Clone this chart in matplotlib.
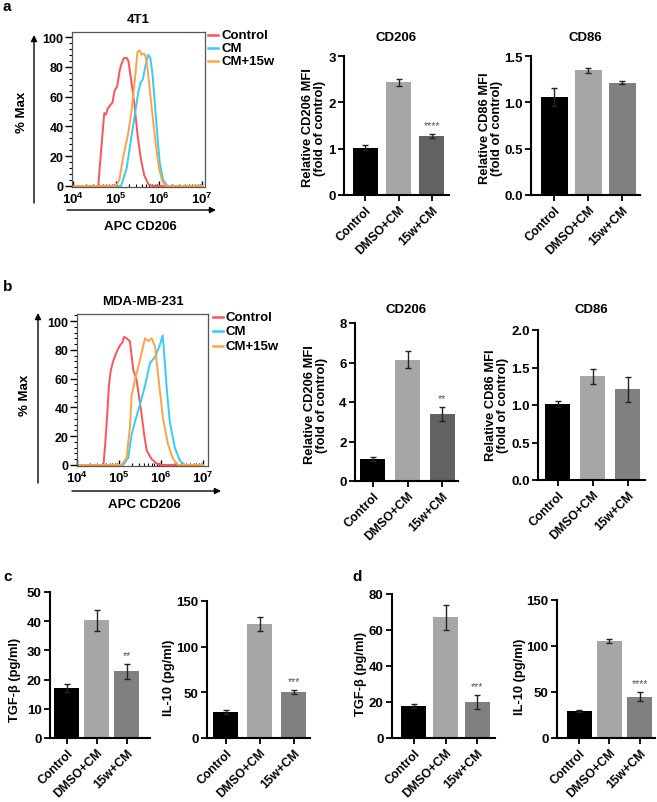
import numpy as np
import matplotlib
matplotlib.use("Agg")
import matplotlib.pyplot as plt
from matplotlib.lines import Line2D
from matplotlib.ticker import MultipleLocator, LogLocator, NullFormatter

plt.rcParams['font.family'] = ['Liberation Sans', 'DejaVu Sans']
plt.rcParams['font.weight'] = 'bold'
plt.rcParams['mathtext.fontset'] = 'custom'
plt.rcParams['mathtext.rm'] = 'Liberation Sans:bold'
plt.rcParams['mathtext.bf'] = 'Liberation Sans:bold'
plt.rcParams['mathtext.it'] = 'Liberation Sans:bold'

# ---------------- data ----------------
hist_labels = ["Control", "CM", "CM+15w"]
hist_xticklabels = [r'$\mathbf{10^{4}}$', r'$\mathbf{10^{5}}$', r'$\mathbf{10^{6}}$', r'$\mathbf{10^{7}}$']

# panel a (4T1) histograms: log10(APC CD206) vs % Max
a_red_log = [4.00, 4.59, 4.66, 4.73, 4.77, 4.81, 4.86, 4.92, 4.97, 5.03, 5.09, 5.13, 5.19, 5.25, 5.29, 5.36, 5.43, 5.50, 5.58, 5.66, 5.76, 5.86, 7.00]
a_red_pct = [0, 0, 25, 49, 48, 52, 54, 56, 64, 67, 78, 82, 86, 86, 84, 70, 55, 35, 18, 7, 1, 0, 0]
a_cyan_log = [4.00, 5.12, 5.25, 5.36, 5.44, 5.52, 5.57, 5.63, 5.68, 5.75, 5.80, 5.85, 5.90, 5.96, 6.02, 6.10, 6.20, 7.00]
a_cyan_pct = [0, 0, 12, 33, 48, 63, 69, 72, 80, 88, 86, 75, 57, 35, 15, 4, 0, 0]
a_orange_log = [4.00, 5.00, 5.08, 5.16, 5.21, 5.29, 5.37, 5.45, 5.50, 5.55, 5.60, 5.64, 5.68, 5.73, 5.79, 5.86, 5.93, 6.00, 6.08, 6.16, 7.00]
a_orange_pct = [0, 0, 4, 18, 25, 36, 52, 74, 90, 91, 88, 89, 88, 80, 64, 45, 27, 12, 3, 0, 0]

# panel b (MDA-MB-231) histograms
b_red_log = [4.00, 4.63, 4.67, 4.72, 4.76, 4.80, 4.86, 4.95, 5.02, 5.08, 5.12, 5.18, 5.26, 5.30, 5.34, 5.42, 5.48, 5.54, 5.60, 5.66, 5.78, 5.90, 6.02, 7.00]
b_red_pct = [0, 0, 14, 35, 55, 65, 72, 79, 83, 85, 89, 88, 86, 76, 66, 59, 47, 35, 21, 10, 4, 1, 0, 0]
b_cyan_log = [4.00, 5.10, 5.22, 5.30, 5.38, 5.50, 5.62, 5.74, 5.86, 5.98, 6.04, 6.08, 6.14, 6.21, 6.33, 6.45, 6.57, 7.00]
b_cyan_pct = [0, 0, 5, 21, 30, 42, 55, 71, 75, 84, 90, 76, 52, 30, 12, 3, 0, 0]
b_orange_log = [4.00, 5.06, 5.18, 5.26, 5.30, 5.38, 5.50, 5.62, 5.70, 5.78, 5.86, 5.96, 6.05, 6.17, 6.29, 6.41, 7.00]
b_orange_pct = [0, 0, 5, 26, 48, 59, 73, 88, 86, 88, 82, 55, 32, 14, 4, 0, 0]

groups = ["Control", "DMSO+CM", "15w+CM"]

a_cd206_mean = [1.02, 2.43, 1.28]
a_cd206_err = [0.05, 0.08, 0.045]
a_cd86_mean = [1.06, 1.345, 1.21]
a_cd86_err = [0.10, 0.03, 0.015]

b_cd206_mean = [1.10, 6.15, 3.39]
b_cd206_err = [0.10, 0.45, 0.37]
b_cd86_mean = [1.01, 1.385, 1.21]
b_cd86_err = [0.04, 0.10, 0.17]

c_tgf_mean = [17.2, 40.3, 22.8]
c_tgf_err = [1.4, 3.6, 2.7]
c_il10_mean = [28.5, 125.0, 50.5]
c_il10_err = [1.8, 7.5, 2.5]

d_tgf_mean = [17.6, 67.1, 20.0]
d_tgf_err = [1.1, 7.0, 3.9]
d_il10_mean = [29.0, 105.5, 45.0]
d_il10_err = [1.2, 2.3, 5.0]

# ---------------- figure ----------------
W, H = 657, 803
fig = plt.figure(figsize=(W / 100, H / 100), dpi=100)


def rect(l, r, t, b):
    return [l / W, 1 - b / H, (r - l) / W, (b - t) / H]


def fp(x, y):
    return (x / W, 1 - y / H)


def ftext(x, y, s, **kw):
    fig.text(x / W, 1 - y / H, s, **kw)


def arrow(x0, y0, x1, y1):
    fig.add_artist(matplotlib.patches.FancyArrowPatch(
        fp(x0, y0), fp(x1, y1), transform=fig.transFigure,
        arrowstyle='-|>', mutation_scale=9, lw=1.0, color='black',
        shrinkA=0, shrinkB=0))


hist_colors = ['#ff5257', '#33cdf5', '#ffa245']


def hist_panel(l, r, t, b, xlim_log, ylim, curves, title, title_y,
               leg_x, leg_ys, yarrow_x, yarrow_y0, yarrow_y1,
               xarrow_y, xarrow_x0, xarrow_x1, ylab_x, ylab_y, xlab_y):
    ax = fig.add_axes(rect(l, r, t, b))
    for (lx, ly), c in zip(curves, hist_colors):
        ax.plot(10 ** np.array(lx), ly, color=c, lw=1.4, solid_joinstyle='round')
    ax.set_xscale('log')
    ax.set_xlim(10 ** xlim_log[0], 10 ** xlim_log[1])
    ax.set_ylim(*ylim)
    ax.set_yticks([0, 20, 40, 60, 80, 100])
    ax.yaxis.set_minor_locator(MultipleLocator(4))
    ax.set_xticks([1e4, 1e5, 1e6, 1e7])
    ax.set_xticklabels(hist_xticklabels)
    ax.xaxis.set_minor_locator(LogLocator(base=10, subs=np.arange(2, 10) * 1.0, numticks=20))
    ax.xaxis.set_minor_formatter(NullFormatter())
    ax.tick_params(axis='y', which='major', direction='out', length=5, width=1.0,
                   labelsize=9, pad=1)
    ax.tick_params(axis='y', which='minor', direction='out', length=2.5, width=0.8)
    ax.tick_params(axis='x', which='major', direction='in', length=4, width=1.0,
                   labelsize=9.5, pad=3)
    ax.tick_params(axis='x', which='minor', direction='in', length=2.5, width=0.8)
    for s in ax.spines.values():
        s.set_color('#555555')
        s.set_linewidth(0.9)
    ftext((l + r) / 2, title_y, title, ha='center', va='center', fontsize=9.5)
    for lab, c, yy in zip(hist_labels, hist_colors, leg_ys):
        fig.add_artist(Line2D([leg_x / W, (leg_x + 10) / W], [1 - yy / H, 1 - yy / H],
                              color=c, lw=1.8, transform=fig.transFigure))
        ftext(leg_x + 13, yy, lab, ha='left', va='center', fontsize=9.5)
    arrow(yarrow_x, yarrow_y0, yarrow_x, yarrow_y1)
    arrow(xarrow_x0, xarrow_y, xarrow_x1, xarrow_y)
    ftext(ylab_x, ylab_y, '% Max', rotation=90, ha='center', va='center', fontsize=9.5)
    ftext((l + r) / 2 + 2, xlab_y, 'APC CD206', ha='center', va='center', fontsize=9.5)
    return ax


def bar_panel(l, r, t, b, xlim, ymax, yticks, yfmt, means, errs, colors,
              stars=None, bar_px=25, title=None, title_y=None,
              ylabel=None, ylab_x=None, ylab_y=None):
    ax = fig.add_axes(rect(l, r, t, b))
    x = np.arange(len(groups))
    spacing = (r - l) / (xlim[1] - xlim[0])
    w = bar_px / spacing
    ax.bar(x, means, width=w, color=colors, yerr=errs, capsize=2.5,
           error_kw=dict(elinewidth=1.0, capthick=1.0, ecolor='#222222'), zorder=2)
    ax.set_xlim(*xlim)
    ax.set_ylim(0, ymax)
    ax.set_yticks(yticks)
    ax.set_yticklabels([yfmt.format(v) for v in yticks])
    ax.set_xticks(x)
    ax.set_xticklabels(groups, rotation=45, ha='right', va='top', rotation_mode='anchor')
    ax.tick_params(axis='y', direction='out', length=4, width=1.3, labelsize=9.5, pad=2)
    ax.tick_params(axis='x', direction='out', length=4, width=1.3, labelsize=8.8, pad=2)
    for s in ['top', 'right']:
        ax.spines[s].set_visible(False)
    for s in ['left', 'bottom']:
        ax.spines[s].set_linewidth(1.5)
    if stars:
        ax.annotate(stars, xy=(2, means[2] + errs[2]), xytext=(0, 2.5),
                    textcoords='offset points', ha='center', va='bottom',
                    fontsize=7.5, color='#555555', fontweight='normal')
    if title:
        ftext((l + r) / 2, title_y, title, ha='center', va='center', fontsize=9.5)
    if ylabel:
        ftext(ylab_x, ylab_y, ylabel, rotation=90, ha='center', va='center',
              fontsize=9.3, linespacing=1.05, multialignment='center')
    return ax


# panel labels
ftext(7, 7, 'a', ha='center', va='center', fontsize=11)
ftext(8, 287, 'b', ha='center', va='center', fontsize=11)
ftext(8, 577, 'c', ha='center', va='center', fontsize=11)
ftext(357, 577, 'd', ha='center', va='center', fontsize=11)

# ---- panel a ----
hist_panel(72, 205, 33, 188, (3.98, 7.07), (-0.7, 103.4),
           [(a_red_log, a_red_pct), (a_cyan_log, a_cyan_pct), (a_orange_log, a_orange_pct)],
           '4T1', 20, 208, [36, 49, 62], 34, 204, 36, 211, 67, 216, 22, 112, 227)

dark = '#000000'
light = '#a6a6a8'
bar_panel(344, 449, 57, 196, (-0.63, 2.51), 3, [0, 1, 2, 3], '{:.0f}',
          a_cd206_mean, a_cd206_err, [dark, light, '#626262'], stars='****',
          title='CD206', title_y=38,
          ylabel='Relative CD206 MFI\n(fold of control)', ylab_x=314, ylab_y=128)
bar_panel(531, 640, 57, 196, (-0.68, 2.53), 1.5, [0.0, 0.5, 1.0, 1.5], '{:.1f}',
          a_cd86_mean, a_cd86_err, [dark, light, '#808080'], bar_px=27,
          title='CD86', title_y=38,
          ylabel='Relative CD86 MFI\n(fold of control)', ylab_x=491, ylab_y=128)

# ---- panel b ----
hist_panel(77, 208, 315, 467, (4.0, 7.12), (-0.7, 104.9),
           [(b_red_log, b_red_pct), (b_cyan_log, b_cyan_pct), (b_orange_log, b_orange_pct)],
           'MDA-MB-231', 302, 213, [318, 332, 347], 38, 484, 314, 492, 72, 221, 25, 395, 505)

bar_panel(355, 458, 324, 482, (-0.52, 2.46), 8, [0, 2, 4, 6, 8], '{:.0f}',
          b_cd206_mean, b_cd206_err, [dark, light, '#626262'], stars='**',
          title='CD206', title_y=310,
          ylabel='Relative CD206 MFI\n(fold of control)', ylab_x=316, ylab_y=405)
bar_panel(538, 645, 331, 481, (-0.56, 2.49), 2.0, [0.0, 0.5, 1.0, 1.5, 2.0], '{:.1f}',
          b_cd86_mean, b_cd86_err, [dark, light, '#808080'],
          title='CD86', title_y=310,
          ylabel='Relative CD86 MFI\n(fold of control)', ylab_x=497, ylab_y=405)

# ---- panel c ----
bar_panel(50, 150, 593, 739, (-0.56, 2.78), 50, [0, 10, 20, 30, 40, 50], '{:.0f}',
          c_tgf_mean, c_tgf_err, [dark, light, '#808080'], stars='**',
          ylabel='TGF-β (pg/ml)', ylab_x=15, ylab_y=680)
bar_panel(207, 310, 602, 739, (-0.55, 2.47), 150, [0, 50, 100, 150], '{:.0f}',
          c_il10_mean, c_il10_err, [dark, light, '#808080'], stars='***',
          ylabel='IL-10 (pg/ml)', ylab_x=169, ylab_y=678)

# ---- panel d ----
bar_panel(392, 495, 595, 739, (-0.69, 2.56), 80, [0, 20, 40, 60, 80], '{:.0f}',
          d_tgf_mean, d_tgf_err, [dark, light, '#808080'], stars='***',
          ylabel='TGF-β (pg/ml)', ylab_x=361, ylab_y=674)
bar_panel(557, 655, 601, 739, (-0.74, 2.51), 150, [0, 50, 100, 150], '{:.0f}',
          d_il10_mean, d_il10_err, [dark, light, '#808080'], stars='****',
          ylabel='IL-10 (pg/ml)', ylab_x=520, ylab_y=677)

fig.savefig('out.png', dpi=100)
